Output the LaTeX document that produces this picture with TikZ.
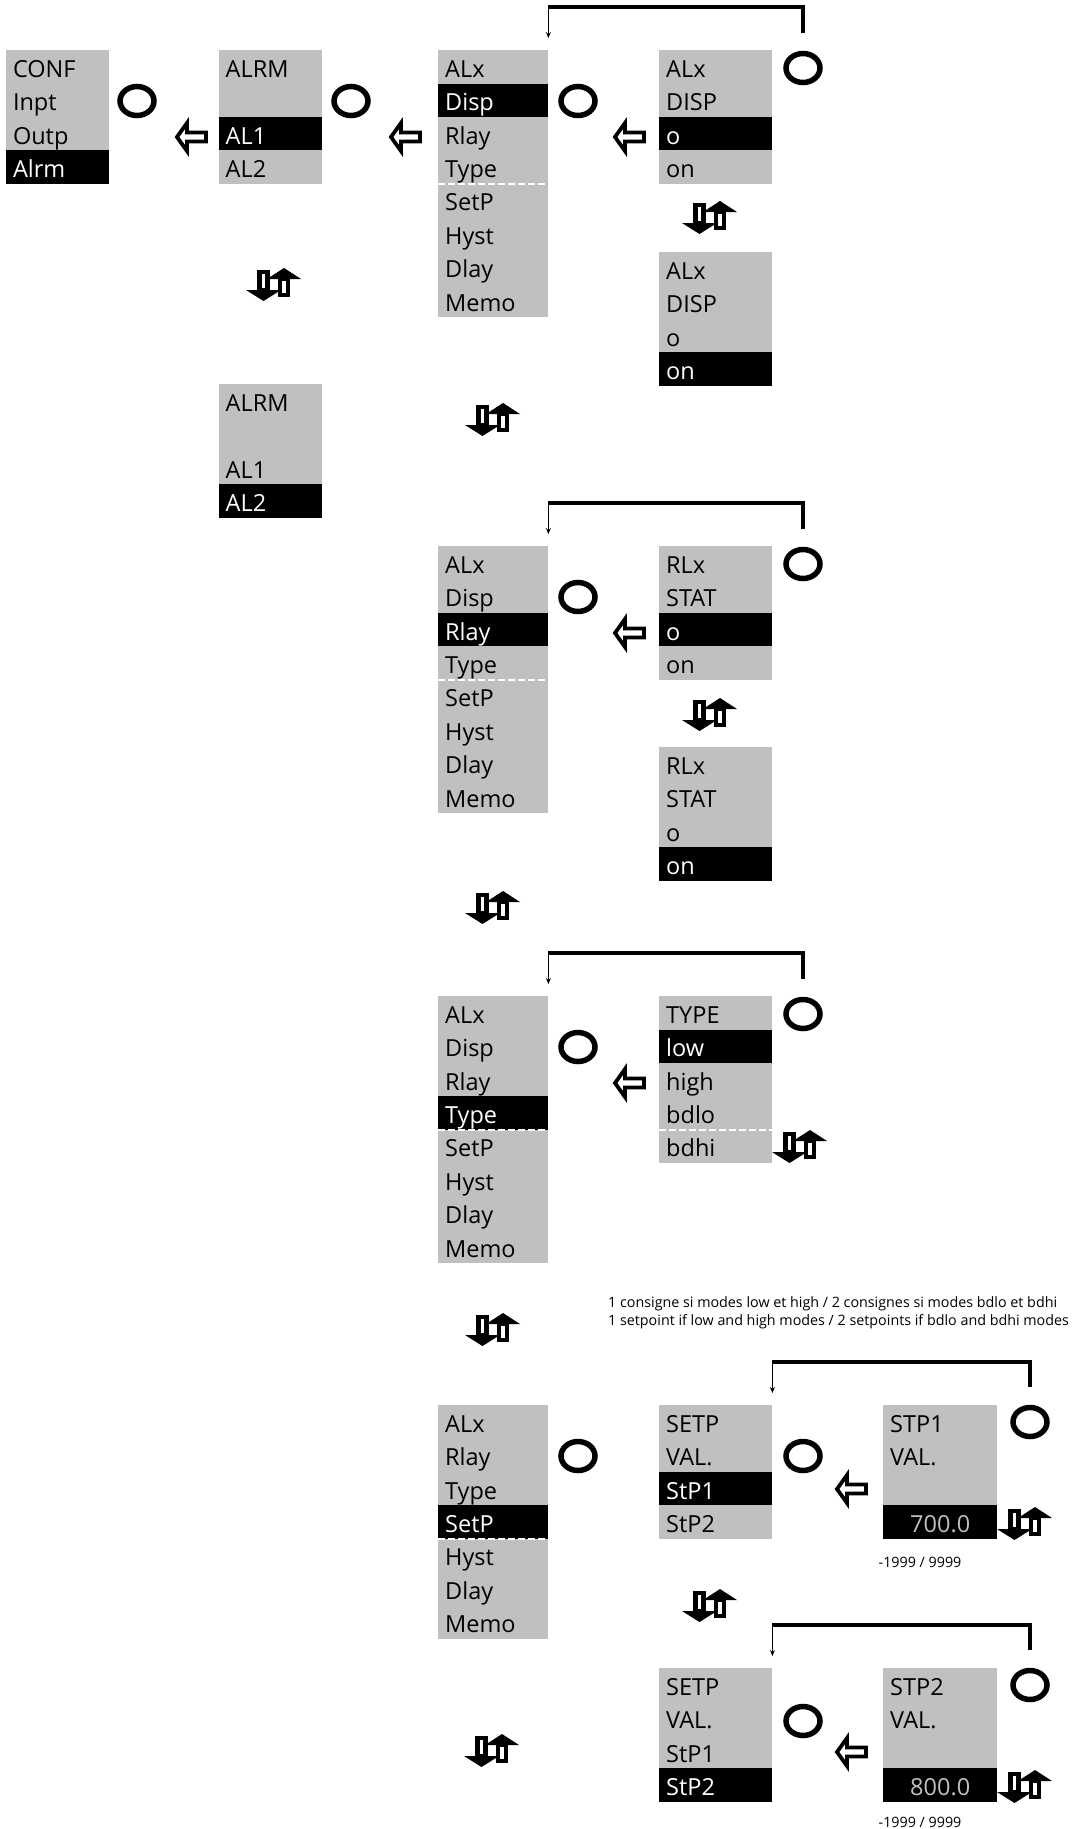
\documentclass[tikz,border=0pt]{standalone}
\usepackage{fontspec}
\setmainfont{Open Sans}
\usetikzlibrary{arrows.meta,shapes.geometric}
\definecolor{panel}{RGB}{192,192,192}
\newcommand{\menufont}{\fontsize{23.5}{28}\selectfont}
\newcommand{\notefont}{\fontsize{14.3}{18}\selectfont}

\tikzset{
  row/.style={fill=panel, anchor=north west, inner xsep=7pt, inner ysep=0pt,
    text height=27pt, text depth=6.4pt, minimum height=33.4pt, align=left, font=\menufont},
  sel/.style={row, fill=black, text=white},
  val/.style={sel, text=panel, align=center},
  knob/.style={draw, ellipse, line width=5.5pt, minimum width=34pt, minimum height=29pt, inner sep=0pt},
  split/.style={white, line width=1.5pt, dash pattern=on 7pt off 3pt},
  ret/.style={line width=4pt},
  retarrow/.style={-{Stealth[length=6pt,width=5pt]}, line width=1.6pt},
  note/.style={font=\notefont, inner sep=0pt},
  pics/prev/.style={code={
    \draw[line width=3.8pt, fill=white] (-14,0) -- (-4,-14) -- (-4,-4.5) -- (15,-4.5)
      -- (15,4.5) -- (-4,4.5) -- (-4,14) -- cycle;}},
  pics/updown/.style={code={
    \draw[line width=4.6pt, fill=white] (-14.5,-12) rectangle (-6.5,6);
    \fill (-28,6) -- (7,6) -- (-10.5,17) -- cycle;
    \draw[line width=4.6pt, fill=white] (6,-5) rectangle (14,11);
    \fill (-7,-5) -- (27,-5) -- (10,-16) -- cycle;}}
}

\begin{document}
\begin{tikzpicture}[x=1pt, y=-1pt]
\useasboundingbox (0,0) rectangle (1072,1829);

% CONF -> ALRM -> ALx -> Disp
\foreach \t/\s [count=\i] in {CONF/row, Inpt/row, Outp/row, Alrm/sel}
  \node[\s, text width=88.5pt] (conf-\i) at (5.8, {50+33.4*(\i-1)}) {\t};
\foreach \t/\s [count=\i] in {ALRM/row, {}/row, AL1/sel, AL2/row}
  \node[\s, text width=89.5pt] (alrmA-\i) at (218.5, {50+33.4*(\i-1)}) {\t};
\foreach \t/\s [count=\i] in {ALx/row, Disp/sel, Rlay/row, Type/row, SetP/row, Hyst/row, Dlay/row, Memo/row}
  \node[\s, text width=96pt] (alxA-\i) at (438, {50+33.4*(\i-1)}) {\t};
\foreach \t/\s [count=\i] in {ALx/row, DISP/row, o/sel, on/row}
  \node[\s, text width=99pt] (dispA-\i) at (659, {50+33.4*(\i-1)}) {\t};
\foreach \t/\s [count=\i] in {ALx/row, DISP/row, o/row, on/sel}
  \node[\s, text width=99pt] (dispB-\i) at (659, {252+33.4*(\i-1)}) {\t};
\foreach \t/\s [count=\i] in {ALRM/row, {}/row, AL1/row, AL2/sel}
  \node[\s, text width=89.5pt] (alrmB-\i) at (218.5, {384+33.4*(\i-1)}) {\t};
\draw[split] (alxA-4.south west) -- (alxA-4.south east);

\node[knob] (k1) at (137,101) {};
\node[knob] (k2) at (351,101) {};
\node[knob] (k3) at (578,101) {};
\node[knob] (k4) at (803,68) {};
\pic at (191,137) {prev};
\pic at (405,137) {prev};
\pic at (629,137) {prev};
\pic at (710,217) {updown};
\pic at (274,284) {updown};
\pic at (493,419) {updown};
\draw[ret] ([yshift=18pt]k4.north) |- ([yshift=43pt]alxA-1.north east) coordinate (r1);
\draw[retarrow] (r1) -- ([yshift=12pt]alxA-1.north east);

% Rlay
\foreach \t/\s [count=\i] in {ALx/row, Disp/row, Rlay/sel, Type/row, SetP/row, Hyst/row, Dlay/row, Memo/row}
  \node[\s, text width=96pt] (alxB-\i) at (438, {546+33.4*(\i-1)}) {\t};
\foreach \t/\s [count=\i] in {RLx/row, STAT/row, o/sel, on/row}
  \node[\s, text width=99pt] (rlxA-\i) at (659, {546+33.4*(\i-1)}) {\t};
\foreach \t/\s [count=\i] in {RLx/row, STAT/row, o/row, on/sel}
  \node[\s, text width=99pt] (rlxB-\i) at (659, {747+33.4*(\i-1)}) {\t};
\draw[split] (alxB-4.south west) -- (alxB-4.south east);

\node[knob] (k5) at (578,597) {};
\node[knob] (k6) at (803,564) {};
\pic at (629,633) {prev};
\pic at (710,714) {updown};
\pic at (493,907) {updown};
\draw[ret] ([yshift=18pt]k6.north) |- ([yshift=43pt]alxB-1.north east) coordinate (r2);
\draw[retarrow] (r2) -- ([yshift=12pt]alxB-1.north east);

% Type
\foreach \t/\s [count=\i] in {ALx/row, Disp/row, Rlay/row, Type/sel, SetP/row, Hyst/row, Dlay/row, Memo/row}
  \node[\s, text width=96pt] (alxC-\i) at (438, {996+33.4*(\i-1)}) {\t};
\foreach \t/\s [count=\i] in {TYPE/row, low/sel, high/row, bdlo/row, bdhi/row}
  \node[\s, text width=99pt] (type-\i) at (659, {996+33.4*(\i-1)}) {\t};
\draw[split] (alxC-4.south west) -- (alxC-4.south east);
\draw[split] (type-4.south west) -- (type-4.south east);

\node[knob] (k7) at (578,1047) {};
\node[knob] (k8) at (803,1014) {};
\pic at (629,1083) {prev};
\pic at (800,1146) {updown};
\pic at (493,1329) {updown};
\draw[ret] ([yshift=18pt]k8.north) |- ([yshift=43pt]alxC-1.north east) coordinate (r3);
\draw[retarrow] (r3) -- ([yshift=12pt]alxC-1.north east);

\node[note, anchor=base west] (n1) at (608,1307) {1 consigne si modes low et high / 2 consignes si modes bdlo et bdhi};
\node[note, anchor=base west] (n2) at (608,1325) {1 setpoint if low and high modes / 2 setpoints if bdlo and bdhi modes};

% SetP
\foreach \t/\s [count=\i] in {ALx/row, Rlay/row, Type/row, SetP/sel, Hyst/row, Dlay/row, Memo/row}
  \node[\s, text width=96pt] (alxD-\i) at (438, {1405+33.4*(\i-1)}) {\t};
\foreach \t/\s [count=\i] in {SETP/row, VAL./row, StP1/sel, StP2/row}
  \node[\s, text width=99pt] (setpA-\i) at (659, {1405+33.4*(\i-1)}) {\t};
\foreach \t/\s [count=\i] in {STP1/row, VAL./row, {}/row, 700.0/val}
  \node[\s, text width=100pt] (stp1-\i) at (883, {1405+33.4*(\i-1)}) {\t};
\draw[split] (alxD-4.south west) -- (alxD-4.south east);

\node[knob] (k9) at (578,1456) {};
\node[knob] (k10) at (803,1456) {};
\node[knob] (k11) at (1030,1422) {};
\pic at (851,1489) {prev};
\pic at (1025,1523) {updown};
\node[note, anchor=base] (lim1) at (920,1567) {-1999 / 9999};
\pic at (710,1605) {updown};
\draw[ret] ([yshift=18pt]k11.north) |- ([yshift=43pt]setpA-1.north east) coordinate (r4);
\draw[retarrow] (r4) -- ([yshift=12pt]setpA-1.north east);

\foreach \t/\s [count=\i] in {SETP/row, VAL./row, StP1/row, StP2/sel}
  \node[\s, text width=99pt] (setpB-\i) at (659, {1668+33.4*(\i-1)}) {\t};
\foreach \t/\s [count=\i] in {STP2/row, VAL./row, {}/row, 800.0/val}
  \node[\s, text width=100pt] (stp2-\i) at (883, {1668+33.4*(\i-1)}) {\t};

\node[knob] (k12) at (803,1721) {};
\node[knob] (k13) at (1030,1685) {};
\pic at (851,1752) {prev};
\pic at (1025,1786) {updown};
\pic at (492,1750) {updown};
\node[note, anchor=base] (lim2) at (920,1827) {-1999 / 9999};
\draw[ret] ([yshift=18pt]k13.north) |- ([yshift=43pt]setpB-1.north east) coordinate (r5);
\draw[retarrow] (r5) -- ([yshift=12pt]setpB-1.north east);
\end{tikzpicture}
\end{document}
